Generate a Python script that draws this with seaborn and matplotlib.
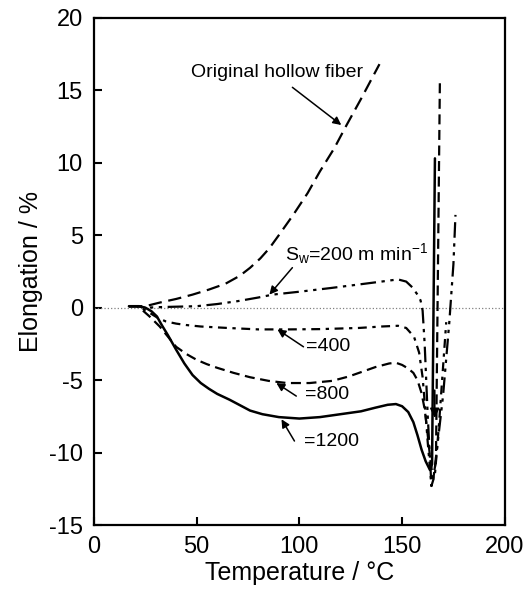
import numpy as np
import pandas as pd
import matplotlib
matplotlib.use('Agg')
import matplotlib.pyplot as plt
import seaborn as sns

## data (temperature in degC, elongation in %)
T_orig = [17, 21, 25, 32, 40, 48, 56, 64, 71, 76, 81, 85.4, 90, 97, 104, 110, 117, 123, 130, 139]
E_orig = [0.1, 0.1, 0.1, 0.35, 0.6, 0.9, 1.25, 1.65, 2.2, 2.75, 3.4, 4.1, 5.0, 6.4, 7.9, 9.4, 11.0, 12.6, 14.4, 16.8]

T_200 = [17, 21, 25, 35, 50, 60, 70, 80, 87, 100, 115, 129, 140, 148, 152, 155, 157.5, 159, 160, 161,
         162.5, 164.3, 166, 170, 173, 175, 176]
E_200 = [0.1, 0.1, 0.0, 0.05, 0.1, 0.25, 0.45, 0.7, 0.9, 1.1, 1.35, 1.6, 1.8, 1.95, 1.8, 1.4, 0.9, 0.5, -0.2, -2.5,
         -7.5, -12.3, -11, -6, -1, 3, 6.4]

T_400 = [17, 21, 24, 27, 31, 35, 40, 45, 52, 65, 80, 95, 110, 129, 140, 148, 152, 155.8, 158.3, 160, 161,
         162.5, 164.3, 166, 168, 170, 171.5]
E_400 = [0.1, 0.1, -0.1, -0.35, -0.7, -0.95, -1.1, -1.2, -1.3, -1.4, -1.5, -1.5, -1.48, -1.4, -1.3, -1.25, -1.4, -2.0, -3.1, -4.8, -6.5,
         -9.3, -12.3, -11.5, -8, -4, -1]

T_800 = [17, 21, 23, 27, 32, 36, 40, 45, 50, 55, 60, 68, 76, 85, 94, 105, 116, 124, 130, 137, 143.7, 147, 150,
         153, 155.5, 157.5, 159.5, 161, 162.5, 164, 165.2, 166.5, 168.4]
E_800 = [0.1, 0.1, -0.1, -0.6, -1.3, -2.0, -2.7, -3.2, -3.6, -3.9, -4.15, -4.5, -4.8, -5.05, -5.2, -5.2, -5.05, -4.75, -4.45, -4.1, -3.85, -3.8, -3.95,
         -4.2, -4.5, -5.0, -5.9, -7.0, -8.8, -10.8, -11.8, -10.5, 15.5]

T_1200 = [17, 22, 25, 28, 30.6, 33, 36, 40, 44, 48, 52, 56, 60, 66, 72, 76, 82, 90, 100, 110, 120, 130, 137, 143,
          147, 150, 153, 155.5, 157.5, 159.5, 161.5, 163.6, 164.6, 166]
E_1200 = [0.1, 0.1, 0, -0.25, -0.6, -1.2, -1.9, -2.9, -3.85, -4.65, -5.2, -5.6, -5.95, -6.35, -6.8, -7.1, -7.35, -7.55, -7.65, -7.55, -7.35, -7.15, -6.9, -6.7,
          -6.65, -6.8, -7.2, -7.9, -8.8, -9.8, -10.6, -11.2, -10.8, 10.3]

sns.set_style('ticks')
plt.rcParams['font.family'] = ['Liberation Sans', 'DejaVu Sans']
plt.rcParams['mathtext.default'] = 'regular'
plt.rcParams['axes.unicode_minus'] = False
for k in ['text.color', 'axes.labelcolor', 'xtick.color', 'ytick.color', 'axes.edgecolor']:
    plt.rcParams[k] = 'black'

fig = plt.figure(figsize = (5.28, 6.12), dpi = 100)
ax = fig.add_axes([0.178, 0.142, 0.778, 0.829])

ax.axhline(0, color = 'grey', linestyle = ':', linewidth = 0.9, zorder = 1)

sns.lineplot(x = T_orig, y = E_orig, ax = ax, color = 'k', sort = False, estimator = None,
             linewidth = 1.6, linestyle = (0, (6, 3)))
sns.lineplot(x = T_200, y = E_200, ax = ax, color = 'k', sort = False, estimator = None,
             linewidth = 1.6, linestyle = (0, (7, 2.5, 1.5, 2.5, 1.5, 2.5)))
sns.lineplot(x = T_400, y = E_400, ax = ax, color = 'k', sort = False, estimator = None,
             linewidth = 1.6, linestyle = (0, (4, 2.5, 1.5, 2.5)))
sns.lineplot(x = T_800, y = E_800, ax = ax, color = 'k', sort = False, estimator = None,
             linewidth = 1.6, linestyle = (0, (4.5, 2.5)))
sns.lineplot(x = T_1200, y = E_1200, ax = ax, color = 'k', sort = False, estimator = None,
             linewidth = 1.8)

## labels with arrows
arrow = dict(arrowstyle = '-|>', color = 'k', lw = 1.1, mutation_scale = 12, shrinkA = 0, shrinkB = 0)
ax.text(89, 16.2, 'Original hollow fiber', fontsize = 14, ha = 'center', va = 'center')
ax.annotate('', xy = (120.4, 12.6), xytext = (96.6, 15.2), arrowprops = arrow)
ax.text(93, 3.7, 'S$_w$=200 m min$^{-1}$', fontsize = 14, ha = 'left', va = 'center')
ax.annotate('', xy = (85.4, 0.9), xytext = (96.6, 2.76), arrowprops = arrow)
ax.text(103.4, -2.7, '=400', fontsize = 14, ha = 'left', va = 'center')
ax.annotate('', xy = (89.3, -1.5), xytext = (102, -2.7), arrowprops = arrow)
ax.text(102.5, -6.0, '=800', fontsize = 14, ha = 'left', va = 'center')
ax.annotate('', xy = (88.8, -5.2), xytext = (98.5, -6.1), arrowprops = arrow)
ax.text(102.4, -9.2, '=1200', fontsize = 14, ha = 'left', va = 'center')
ax.annotate('', xy = (91.3, -7.7), xytext = (97.6, -9.2), arrowprops = arrow)
ax.annotate('', xy = (165.9, -7.8), xytext = (165.9, -5.5),
            arrowprops = dict(arrowstyle = '-|>', color = 'k', lw = 1.2, mutation_scale = 14))

ax.set_xlim(0, 200)
ax.set_ylim(-15, 20)
ax.set_xticks([0, 50, 100, 150, 200])
ax.set_yticks([-15, -10, -5, 0, 5, 10, 15, 20])
ax.tick_params(direction = 'in', length = 6, width = 1.5, labelsize = 17, pad = 8,
               top = False, right = False)
for s in ax.spines.values():
    s.set_linewidth(1.6)
    s.set_visible(True)
ax.set_xlabel('Temperature / °C', fontsize = 18, labelpad = 2)
ax.set_ylabel('Elongation / %', fontsize = 18, labelpad = 4)

fig.savefig('out.png', dpi = 100)
